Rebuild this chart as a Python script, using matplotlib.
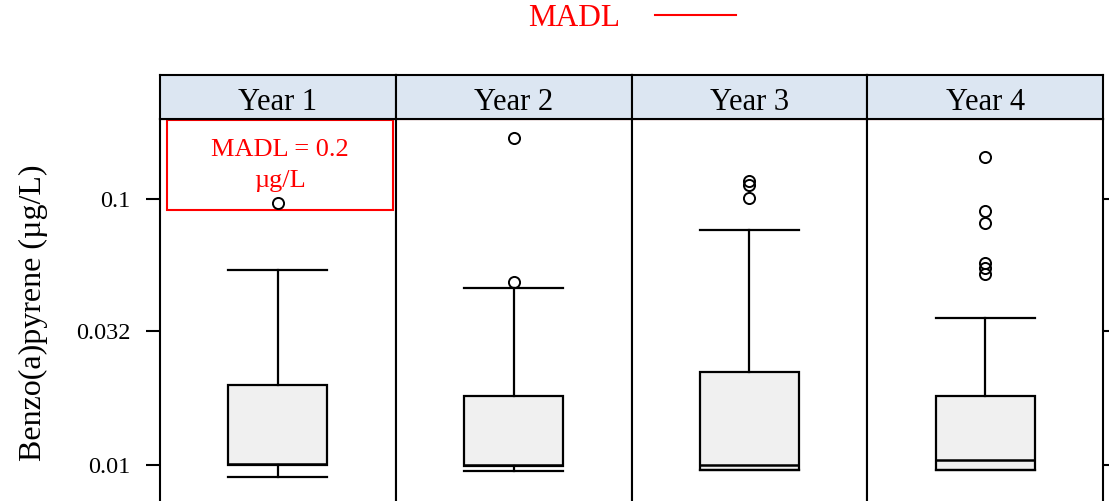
import matplotlib
matplotlib.use("Agg")
import matplotlib.pyplot as plt
from matplotlib.lines import Line2D
from matplotlib.patches import Rectangle

plt.rcParams['font.family'] = ['Liberation Serif', 'DejaVu Serif']

years = ["Year 1", "Year 2", "Year 3", "Year 4"]
whisker_lo = [0.0090, 0.00946, 0.00958, 0.00958]
q1 = [0.0100, 0.0099, 0.00958, 0.00958]
medians = [0.0101, 0.0100, 0.0100, 0.01045]
q3 = [0.0200, 0.0182, 0.0224, 0.0182]
whisker_hi = [0.054, 0.0462, 0.0765, 0.0358]
outliers = [
    [0.0966],
    [0.0488, 0.169],
    [0.101, 0.113, 0.117],
    [0.0521, 0.0549, 0.0576, 0.0814, 0.0903, 0.144],
]
madl = 0.2

yticks = [0.01, 0.032, 0.1]
ytick_labels = ["0.01", "0.032", "0.1"]

W, H = 1109, 501
fig = plt.figure(figsize=(W / 100, H / 100), dpi=100)

# panel geometry in pixels (bottom runs past the picture edge, like the reference)
left_px, right_px = 160, 1103
top_px, bottom_px = 119, 524
strip_top = 75
pw = (right_px - left_px) / 4

strip_color = "#dce6f2"
box_color = "#f0f0f0"

for i, year in enumerate(years):
    x0 = (left_px + i * pw) / W
    ax = fig.add_axes([x0, 1 - bottom_px / H, pw / W, (bottom_px - top_px) / H])
    ax.set_yscale("log")

    stats = [dict(whislo=whisker_lo[i], q1=q1[i], med=medians[i], q3=q3[i],
                  whishi=whisker_hi[i], fliers=outliers[i])]
    ax.bxp(stats, positions=[1], widths=0.42, capwidths=0.42, patch_artist=True,
           boxprops=dict(facecolor=box_color, edgecolor="black", linewidth=1.6),
           whiskerprops=dict(color="black", linewidth=1.6),
           capprops=dict(color="black", linewidth=1.6),
           medianprops=dict(color="black", linewidth=1.8),
           flierprops=dict(marker="o", markerfacecolor="none", markeredgecolor="black",
                           markersize=8, markeredgewidth=1.4))
    ax.axhline(madl, color="red", linewidth=1.5, zorder=0)

    ax.set_xlim(0.5, 1.5)
    ax.set_ylim(0.006, madl)
    ax.set_xticks([])
    ax.set_yticks(yticks)
    ax.set_yticklabels(ytick_labels)
    ax.minorticks_off()
    ax.tick_params(axis="y", direction="out", length=10, width=1.5, pad=11,
                   labelsize=17.5, left=(i == 0), labelleft=(i == 0),
                   right=(i == 3), labelright=False)
    for sp in ax.spines.values():
        sp.set_linewidth(1.5)

    if i == 0:
        ax.add_patch(Rectangle((0.03, 0.775), 0.96, 0.222, transform=ax.transAxes,
                               facecolor="none", edgecolor="red", linewidth=1.5))
        ax.text(0.51, 0.885, "MADL = 0.2\nµg/L", transform=ax.transAxes,
                ha="center", va="center", color="red", fontsize=19, linespacing=1.5)

    sax = fig.add_axes([x0, 1 - top_px / H, pw / W, (top_px - strip_top) / H])
    sax.set_facecolor(strip_color)
    sax.set_xticks([])
    sax.set_yticks([])
    for sp in sax.spines.values():
        sp.set_linewidth(1.5)
    sax.text(0.5, 0.38, year, ha="center", va="center", fontsize=22, transform=sax.transAxes)

fig.text(33 / W, 1 - 313 / H, "Benzo(a)pyrene (µg/L)", rotation=90,
         ha="center", va="center", fontsize=23)

fig.legend(handles=[Line2D([], [], color="red", linewidth=1.5)], labels=["MADL"],
           markerfirst=False, frameon=False, loc="center",
           bbox_to_anchor=(632 / W, 1 - 18 / H), fontsize=22.5, labelcolor="red",
           handlelength=2.6, handletextpad=1.1, borderpad=0, borderaxespad=0)

fig.savefig("out.png", dpi=100)
